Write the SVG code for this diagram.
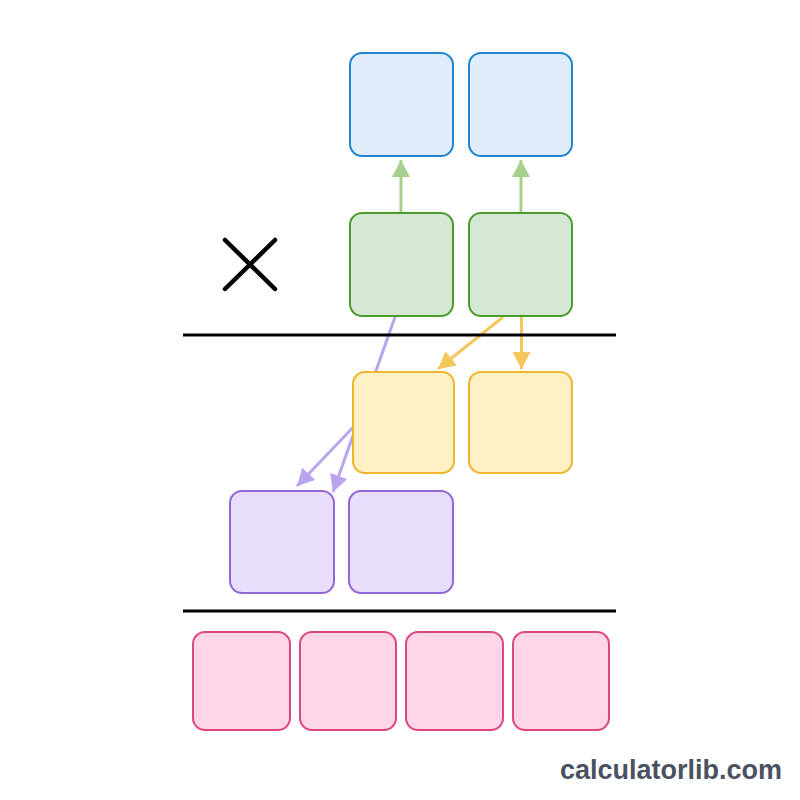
<svg xmlns="http://www.w3.org/2000/svg" width="800" height="800" viewBox="0 0 800 800">
<style>
  .box { stroke-width: 2; }
  .blue { fill: #dfedfb; stroke: #1d86cf; }
  .green { fill: #d5e8d3; stroke: #4c9c2c; }
  .yellow { fill: #fff0c6; stroke: #efb52c; }
  .purple { fill: #e8ddfb; stroke: #9168d6; }
  .pink { fill: #ffd6e7; stroke: #de4680; }
  .rule { stroke: #000; stroke-width: 3; }
  .cg { stroke: #a8d08d; stroke-width: 3; fill: none; }
  .cy { stroke: #f5c75b; stroke-width: 3; fill: none; }
  .cp { stroke: #b9a4ee; stroke-width: 3; fill: none; }
</style>
<defs>
  <marker id="ag" markerUnits="userSpaceOnUse" markerWidth="18" markerHeight="18" refX="17" refY="9" orient="auto"><path d="M0,0 L17,9 L0,18 z" fill="#a8d08d"/></marker>
  <marker id="ay" markerUnits="userSpaceOnUse" markerWidth="18" markerHeight="18" refX="17" refY="9" orient="auto"><path d="M0,0 L17,9 L0,18 z" fill="#f5c75b"/></marker>
  <marker id="ap" markerUnits="userSpaceOnUse" markerWidth="18" markerHeight="18" refX="17" refY="9" orient="auto"><path d="M0,0 L17,9 L0,18 z" fill="#b9a4ee"/></marker>
</defs>
<rect width="800" height="800" fill="#ffffff"/>

<g id="connectors">
  <line class="cg" x1="401" y1="213" x2="401" y2="160" marker-end="url(#ag)"/>
  <line class="cg" x1="521" y1="213" x2="521" y2="160" marker-end="url(#ag)"/>
  <line class="cy" x1="503" y1="317" x2="438" y2="369" marker-end="url(#ay)"/>
  <line class="cy" x1="521.5" y1="317" x2="521.5" y2="369" marker-end="url(#ay)"/>
  <line class="cp" x1="395" y1="317" x2="333" y2="492" marker-end="url(#ap)"/>
  <line class="cp" x1="362" y1="418" x2="297" y2="486" marker-end="url(#ap)"/>
</g>

<g id="rules">
  <line class="rule" x1="183" y1="335" x2="616" y2="335"/>
  <line class="rule" x1="183" y1="611" x2="616" y2="611"/>
</g>

<g id="times">
  <path d="M225,240 L275,289 M275,240 L225,289" stroke="#000" stroke-width="4.5" stroke-linecap="round" fill="none"/>
</g>

<g id="blue1"><rect class="box blue" x="350" y="53" width="103" height="103" rx="12"/></g>
<g id="blue2"><rect class="box blue" x="469" y="53" width="103" height="103" rx="12"/></g>
<g id="green1"><rect class="box green" x="350" y="213" width="103" height="103" rx="12"/></g>
<g id="green2"><rect class="box green" x="469" y="213" width="103" height="103" rx="12"/></g>
<g id="yellow1"><rect class="box yellow" x="353" y="372" width="101" height="101" rx="12"/></g>
<g id="yellow2"><rect class="box yellow" x="469" y="372" width="103" height="101" rx="12"/></g>
<g id="purple1"><rect class="box purple" x="230" y="491" width="104" height="102" rx="12"/></g>
<g id="purple2"><rect class="box purple" x="349" y="491" width="104" height="102" rx="12"/></g>
<g id="pink1"><rect class="box pink" x="193" y="632" width="97" height="98" rx="12"/></g>
<g id="pink2"><rect class="box pink" x="300" y="632" width="96" height="98" rx="12"/></g>
<g id="pink3"><rect class="box pink" x="406" y="632" width="97" height="98" rx="12"/></g>
<g id="pink4"><rect class="box pink" x="513" y="632" width="96" height="98" rx="12"/></g>

<text x="782" y="779" text-anchor="end" font-family="Liberation Sans, Arial, sans-serif" font-weight="bold" font-size="27" fill="#4a5261">calculatorlib.com</text>
</svg>
